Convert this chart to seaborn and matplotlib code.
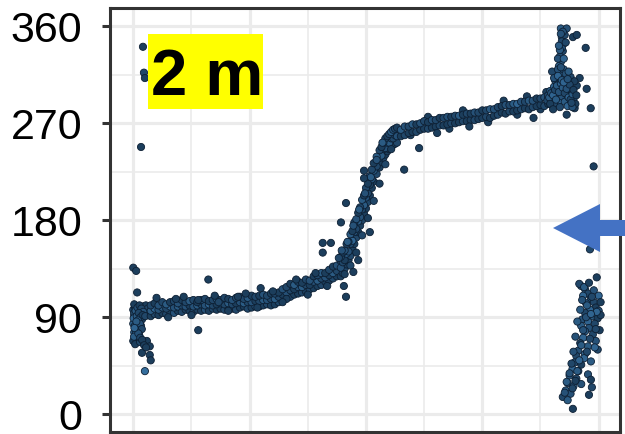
import matplotlib
matplotlib.use("Agg")
import matplotlib.pyplot as plt
import pandas as pd
import seaborn as sns
from matplotlib.colors import LinearSegmentedColormap
from matplotlib.patches import Rectangle, Polygon

# ---- wind direction (deg) against hour of day, 2 m sensor ----
# hours just after midnight
night_x = [0.00, 0.15, 0.20, 0.40, 0.50, 0.55, 0.60,
           0.00, 0.05, 0.10, 0.00, 0.15, 0.05, 0.20, 0.25, 0.30, 0.10,
           0.35, 0.20, 0.40, 0.15, 0.30, 0.45, 0.50, 0.25, 0.00, 0.10,
           0.35, 0.55, 0.70, 0.85, 0.45, 0.85, 0.90, 0.60, 0.05, 0.60,
           0.65, 0.75, 0.80, 0.40, 0.30]
night_y = [136, 133, 113, 248, 341, 317, 312,
           97, 92, 88, 84, 80, 76, 95, 90, 86, 99,
           93, 83, 97, 73, 78, 88, 100, 70, 68, 65,
           67, 66, 68, 63, 57, 55, 50, 40, 102, 96,
           101, 98, 94, 82, 74]
night_s = [2, 2, 2, 2, 2, 3, 2,
           3, 4, 5, 6, 3, 5, 2, 4, 6, 2, 3, 5, 2, 4, 3, 2, 3, 3, 2, 2,
           3, 2, 2, 2, 2, 2, 2, 7, 2, 3, 2, 3, 4, 5, 3]

night2_x = [0.05, 0.12, 0.22, 0.32, 0.42, 0.52, 0.02, 0.18, 0.28, 0.38,
            0.48, 0.08, 0.24, 0.34, 0.44, 0.14, 0.04, 0.26, 0.36, 0.46,
            0.56, 0.66, 0.16, 0.06, 0.62]
night2_y = [94, 96, 99, 101, 98, 95, 89, 91, 94, 90,
            92, 82, 87, 84, 79, 77, 72, 75, 71, 69,
            64, 62, 86, 80, 91]
night2_s = [3, 5, 4, 2, 3, 4, 6, 5, 3, 4, 2, 5, 6, 4, 3, 6, 5, 4, 3, 2,
            2, 2, 5, 6, 3]

# morning plateau, easterly flow
morning_x = [0.9, 1.1, 1.3, 1.5, 1.7, 1.9, 2.1, 2.3, 2.5, 2.7,
             2.9, 3.1, 3.3, 3.5, 3.7, 3.9, 4.1, 4.3, 4.5, 4.7,
             4.9, 5.1, 5.3, 5.5, 5.7, 5.9, 6.1, 6.3, 6.5, 6.7,
             6.9, 7.1, 7.3, 7.5, 7.7, 7.9, 8.1, 8.3, 8.5, 8.7,
             8.9, 9.1, 9.3, 9.5, 9.7, 9.9, 10.1, 10.3, 10.5, 10.7]
morning_hi = [101, 103, 101, 104, 102, 104, 105, 103, 106, 104,
              105, 106, 104, 106, 107, 105, 106, 107, 106, 108,
              107, 106, 108, 109, 107, 108, 110, 109, 110, 111,
              110, 112, 112, 113, 116, 118, 121, 120, 123, 122,
              125, 124, 128, 129, 131, 131, 134, 137, 138, 142]
morning_mid = [96, 98, 97, 99, 98, 100, 99, 100, 101, 100,
               101, 100, 101, 102, 101, 102, 101, 102, 103, 102,
               103, 102, 103, 104, 103, 104, 104, 105, 105, 106,
               106, 107, 107, 109, 111, 113, 115, 116, 118, 118,
               120, 120, 123, 124, 126, 127, 129, 131, 133, 136]
morning_lo = [91, 93, 92, 94, 93, 95, 94, 96, 95, 97,
              96, 95, 97, 96, 97, 96, 98, 97, 98, 97,
              99, 98, 97, 99, 100, 98, 99, 100, 100, 101,
              102, 101, 102, 104, 105, 108, 109, 111, 112, 113,
              114, 116, 117, 119, 120, 123, 124, 126, 128, 131]
morning_s_hi = [3, 2, 4, 3, 5, 2, 3, 4, 2, 3, 5, 3, 2, 4, 3, 2, 3, 5, 2, 3,
                2, 4, 3, 2, 3, 5, 2, 3, 2, 4, 3, 2, 3, 2, 4, 3, 2, 5, 3, 2,
                3, 4, 2, 3, 5, 2, 3, 2, 4, 3]
morning_s_mid = [5, 6, 4, 5, 3, 6, 4, 5, 3, 4, 2, 4, 5, 3, 4, 6, 3, 2, 4, 3,
                 5, 3, 2, 4, 5, 3, 4, 2, 3, 5, 4, 3, 5, 3, 2, 4, 3, 2, 4, 5,
                 3, 2, 4, 5, 3, 4, 2, 5, 3, 4]
morning_s_lo = [2, 3, 2, 2, 3, 2, 4, 2, 3, 2, 2, 3, 2, 2, 4, 2, 3, 2, 2, 3,
                2, 2, 3, 2, 2, 3, 2, 4, 2, 2, 3, 2, 2, 3, 2, 2, 3, 2, 2, 3,
                2, 3, 2, 2, 3, 2, 2, 3, 2, 2]

# midday veer towards the west
rise_x = [10.7, 10.8, 10.9, 11.0, 11.1, 11.2, 11.3, 11.4, 11.5, 11.6,
          11.7, 11.8, 11.9, 12.0, 12.1, 12.2, 12.3, 12.4, 12.55, 12.7,
          12.8, 12.9, 13.0, 13.1, 13.2, 13.3, 13.4, 13.5, 13.6]
rise_top = [146, 150, 152, 158, 160, 167, 170, 178, 181, 187,
            192, 199, 203, 210, 214, 221, 227, 233, 239, 245,
            248, 252, 256, 258, 260, 262, 264, 265, 266]
rise_mid = [136, 141, 143, 149, 151, 158, 161, 169, 172, 179,
            183, 190, 194, 201, 205, 213, 218, 226, 230, 238,
            240, 246, 247, 252, 252, 256, 256, 259, 258]
rise_bot = [128, 131, 135, 139, 143, 147, 153, 158, 164, 169,
            175, 180, 186, 191, 197, 203, 210, 216, 223, 229,
            234, 238, 241, 244, 246, 248, 250, 251, 252]
rise_s_top = [3, 2, 4, 2, 3, 5, 2, 3, 4, 2, 3, 5, 2, 3, 2, 4, 3, 2, 5, 3,
              2, 4, 3, 2, 3, 5, 4, 3, 2]
rise_s_mid = [4, 3, 2, 5, 4, 3, 6, 4, 3, 5, 4, 3, 5, 4, 3, 2, 4, 5, 3, 4,
              5, 3, 4, 6, 5, 4, 3, 5, 4]
rise_s_bot = [2, 2, 3, 2, 2, 3, 2, 2, 3, 2, 2, 3, 2, 2, 3, 2, 2, 2, 3, 2,
              2, 3, 2, 2, 2, 3, 2, 2, 3]

rise2_x = [10.6, 10.75, 10.9, 11.05, 11.2, 11.35, 11.5, 11.65, 11.8,
           11.95, 12.1, 12.25, 12.4, 12.55, 12.7, 12.85, 13.0, 13.3]
rise2_y = [145, 152, 130, 160, 138, 175, 150, 190, 166,
           205, 182, 220, 198, 236, 214, 252, 232, 246]
rise2_s = [3, 4, 2, 5, 3, 4, 2, 5, 3, 4, 2, 5, 3, 4, 2, 5, 3, 2]

# afternoon / evening westerly plateau
evening_x = [13.8, 14.0, 14.2, 14.4, 14.6, 14.8, 15.0, 15.2, 15.4, 15.6,
             15.8, 16.0, 16.2, 16.4, 16.6, 16.8, 17.0, 17.2, 17.4, 17.6,
             17.8, 18.0, 18.2, 18.4, 18.6, 18.8, 19.0, 19.2, 19.4, 19.6,
             19.8, 20.0, 20.2, 20.4, 20.6, 20.8, 21.0, 21.2, 21.4, 21.6]
evening_hi = [264, 267, 267, 269, 269, 270, 272, 271, 273, 273,
              275, 275, 276, 276, 277, 277, 278, 279, 279, 280,
              280, 282, 282, 283, 283, 285, 286, 287, 287, 288,
              288, 290, 290, 291, 291, 293, 293, 294, 294, 296]
evening_lo = [258, 259, 261, 262, 262, 264, 265, 265, 266, 267,
              268, 268, 269, 270, 270, 271, 272, 272, 273, 273,
              274, 275, 276, 275, 277, 278, 280, 279, 281, 281,
              282, 283, 284, 283, 285, 286, 287, 286, 288, 289]
evening_s_hi = [5, 4, 3, 5, 2, 4, 3, 2, 4, 3, 2, 3, 4, 2, 3, 5, 2, 3, 2, 4,
                3, 2, 3, 5, 4, 3, 2, 4, 3, 5, 6, 4, 3, 5, 4, 2, 3, 4, 3, 2]
evening_s_lo = [2, 3, 2, 2, 3, 2, 2, 3, 2, 2, 3, 2, 2, 3, 2, 2, 3, 2, 2, 3,
                2, 2, 3, 2, 2, 3, 2, 2, 3, 2, 2, 3, 2, 2, 3, 2, 2, 3, 2, 2]

# band-edge readings, morning and evening
edge_x = [1.2, 1.8, 2.6, 3.0, 4.2, 4.9, 5.8, 6.4, 7.2, 7.9,
          8.4, 9.0, 9.4, 10.0, 14.3, 15.2, 16.3, 17.0, 18.3, 19.1,
          19.8, 20.3, 21.0, 21.3]
edge_y = [108, 90, 109, 92, 110, 96, 112, 99, 114, 107,
          125, 111, 131, 119, 259, 276, 265, 282, 271, 291,
          278, 295, 283, 299]
edge_s = [2, 2, 2, 2, 2, 2, 2, 2, 2, 2, 2, 2, 2, 2, 2, 2, 2, 2, 2, 2,
          2, 2, 2, 2]

# late evening, backing through north
late_x = [22.05, 22.35, 22.10, 22.20, 22.15, 22.00, 22.05, 21.95, 22.10, 22.25, 22.00,
          22.67, 22.87, 23.33, 23.02, 22.87, 23.38, 23.59, 22.76, 22.35,
          21.40, 21.50, 21.60, 21.70, 21.75, 21.80, 21.85, 21.90, 21.95, 22.00,
          22.05, 22.10, 22.15, 22.20, 22.25, 22.30, 22.35, 22.40, 22.45, 22.50,
          22.60, 22.70, 22.80, 21.60, 21.90, 22.20, 22.55, 22.75, 22.65, 21.70]
late_y = [358, 358, 350, 344, 337, 332, 327, 323, 340, 352, 318,
          350, 352, 340, 312, 305, 302, 284, 284, 278,
          296, 300, 293, 304, 310, 298, 315, 306, 291, 312,
          300, 295, 316, 303, 290, 309, 297, 286, 305, 295,
          300, 292, 288, 318, 320, 320, 313, 309, 285, 288]
late_s = [5, 4, 4, 5, 3, 4, 5, 6, 4, 3, 2,
          2, 2, 2, 2, 2, 2, 2, 2, 2,
          4, 5, 3, 6, 4, 3, 5, 4, 6, 3, 5, 4, 6, 3, 5, 4, 3, 6, 4, 5,
          3, 4, 2, 3, 4, 5, 3, 2, 4, 3]

late2_x = [21.35, 21.45, 21.55, 21.65, 21.75, 21.85, 21.95, 22.05, 22.15, 22.25,
           22.35, 22.45, 22.55, 22.65, 21.50, 21.70, 21.90, 22.10, 22.30, 22.50,
           22.70, 21.80, 22.00, 22.20, 22.40, 22.60, 21.65, 22.05, 22.45, 22.85,
           21.90, 22.00, 22.10, 22.15, 22.20, 22.30, 21.95, 22.05]
late2_y = [291, 294, 298, 296, 301, 305, 299, 307, 303, 298,
           302, 294, 292, 297, 288, 312, 314, 310, 316, 306,
           301, 292, 285, 308, 311, 289, 283, 322, 318, 296,
           330, 338, 346, 355, 330, 345, 342, 353]
late2_s = [3, 5, 4, 6, 3, 5, 4, 6, 5, 3, 4, 6, 3, 5, 2, 4, 6, 5, 4, 3,
           2, 5, 3, 6, 4, 3, 2, 4, 5, 2, 4, 5, 3, 4, 6, 3, 5, 4]

# readings past north, shown from 0 deg
wrap_x = [23.55, 23.90, 23.10, 23.30, 23.45, 23.20, 23.60, 23.75, 23.35, 23.85,
          24.00, 23.55, 23.30, 23.70, 23.95, 23.15, 23.45, 23.80, 23.10, 23.50,
          24.05, 23.30, 23.70, 23.20, 23.85, 23.05, 23.45, 23.95, 22.95, 23.30,
          22.85, 23.60, 22.75, 23.10, 22.65, 22.95, 23.45, 22.50, 22.85, 23.60,
          22.40, 22.70, 23.65, 22.30, 22.55, 23.50, 22.15, 22.40, 22.67, 23.10,
          23.25, 24.10, 23.74]
wrap_y = [153, 127, 119, 116, 112, 110, 107, 104, 103, 99,
          96, 97, 94, 91, 89, 88, 86, 84, 82, 80,
          78, 77, 74, 71, 68, 66, 63, 60, 59, 56,
          54, 49, 48, 46, 42, 40, 37, 36, 33, 32,
          29, 26, 25, 22, 19, 18, 16, 13, 5, 28,
          52, 92, 230]
wrap_s = [3, 2, 4, 5, 3, 6, 4, 3, 5, 2, 4, 6, 3, 5, 2, 4, 6, 3, 5, 4,
          2, 5, 3, 6, 4, 2, 5, 3, 4, 6, 3, 5, 4, 2, 6, 3, 4, 5, 3, 2,
          4, 6, 3, 5, 4, 2, 3, 5, 2, 4, 6, 2, 2]

wrap2_x = [23.00, 23.25, 23.50, 23.75, 24.00, 23.15, 23.40, 23.65, 23.90, 24.10,
           23.05, 23.35, 23.60, 23.85, 22.90, 23.20, 23.55, 23.80, 22.80, 23.10,
           23.40, 22.70, 23.00, 22.60, 22.90, 22.50, 22.80, 22.35, 22.65, 22.25]
wrap2_y = [121, 118, 122, 115, 110, 106, 101, 109, 95, 104,
           97, 90, 93, 79, 86, 78, 70, 62, 72, 64,
           58, 58, 50, 47, 40, 38, 31, 30, 24, 20]
wrap2_s = [3, 5, 2, 4, 6, 4, 5, 3, 6, 2, 5, 4, 6, 3, 5, 4, 3, 6, 4, 5,
           3, 4, 6, 3, 5, 4, 2, 5, 3, 4]

# scattered single readings through the day
stray_x = [2.20, 3.35, 3.35, 3.87, 4.40, 5.40, 6.57, 7.70, 9.77, 9.77,
           10.19, 10.71, 10.86, 10.97, 10.97, 11.35, 11.60, 11.90, 11.90, 12.20,
           13.97, 14.74, 15.67, 17.33, 20.64]
stray_y = [107, 106, 78, 125, 104, 109, 117, 104, 150, 159,
           159, 178, 119, 109, 196, 132, 143, 226, 219, 169,
           227, 247, 261, 267, 275]
stray_s = [2, 2, 2, 2, 3, 2, 2, 2, 2, 2, 2, 2, 2, 2, 2, 2, 2, 2, 2, 2,
           2, 2, 2, 2, 2]

y_ticks = [0, 90, 180, 270, 360]
x_ticks = [0, 6, 12, 18, 24]
panel_label = "2 m"


def block(x, y, s):
    return pd.DataFrame({"hour": x, "direction": y, "speed": s})


df = pd.concat([
    block(night_x, night_y, night_s),
    block(night2_x, night2_y, night2_s),
    block(morning_x, morning_lo, morning_s_lo),
    block(morning_x, morning_mid, morning_s_mid),
    block(morning_x, morning_hi, morning_s_hi),
    block(edge_x, edge_y, edge_s),
    block(rise_x, rise_bot, rise_s_bot),
    block(rise_x, rise_mid, rise_s_mid),
    block(rise_x, rise_top, rise_s_top),
    block(rise2_x, rise2_y, rise2_s),
    block(evening_x, evening_lo, evening_s_lo),
    block(evening_x, evening_hi, evening_s_hi),
    block(late_x, late_y, late_s),
    block(late2_x, late2_y, late2_s),
    block(wrap_x, wrap_y, wrap_s),
    block(wrap2_x, wrap2_y, wrap2_s),
    block(stray_x, stray_y, stray_s),
], ignore_index=True)

sns.set_style("white")
plt.rcParams["font.family"] = ["Liberation Sans", "DejaVu Sans"]

W, H = 625, 434
fig = plt.figure(figsize=(W / 100, H / 100), dpi=100)
ax = fig.add_axes([110 / W, 2 / H, 510 / W, 424 / H])

cmap = LinearSegmentedColormap.from_list("speed", ["#132B43", "#56B1F7"])
sns.scatterplot(data=df, x="hour", y="direction", hue="speed",
                palette=cmap, hue_norm=(0, 14), s=27,
                edgecolor="#0d1f33", linewidth=0.6,
                legend=False, ax=ax, zorder=3)

ax.set_xlim(-1.2, 25.1)
ax.set_ylim(-16.5, 377)
ax.set_xticks(x_ticks)
ax.set_xticks([3, 9, 15, 21], minor=True)
ax.set_yticks(y_ticks)
ax.set_yticks([45, 135, 225, 315], minor=True)
ax.set_yticklabels([str(v) for v in y_ticks])
ax.set_xlabel("")
ax.set_ylabel("")

ax.set_axisbelow(True)
ax.grid(which="major", color="#EBEBEB", linewidth=2.3)
ax.grid(which="minor", color="#EBEBEB", linewidth=1.2)
ax.tick_params(axis="x", which="both", bottom=False, labelbottom=False)
ax.tick_params(axis="y", which="minor", left=False)
ax.tick_params(axis="y", which="major", left=True, length=6, width=2.2,
               color="#333333", labelsize=31, labelcolor="black", pad=14)
for sp in ax.spines.values():
    sp.set_visible(True)
    sp.set_color("#333333")
    sp.set_linewidth(2.2)

# panel tag
fig.patches.append(Rectangle((148 / W, 1 - 109 / H), 115 / W, 75 / H,
                             transform=fig.transFigure, facecolor="#FFFF00",
                             edgecolor="none", zorder=5))
fig.text(151 / W, 1 - 95 / H, panel_label, fontsize=47, fontweight="bold",
         color="black", ha="left", va="baseline", zorder=6)

# pointer arrow on the right edge
arrow_px = [(553, 228), (600, 204), (600, 220), (626, 220),
            (626, 236), (600, 236), (600, 252)]
fig.patches.append(Polygon([(x / W, 1 - y / H) for x, y in arrow_px],
                           closed=True, transform=fig.transFigure,
                           facecolor="#4472C4", edgecolor="none", zorder=7))

fig.savefig("out.png", dpi=100)
